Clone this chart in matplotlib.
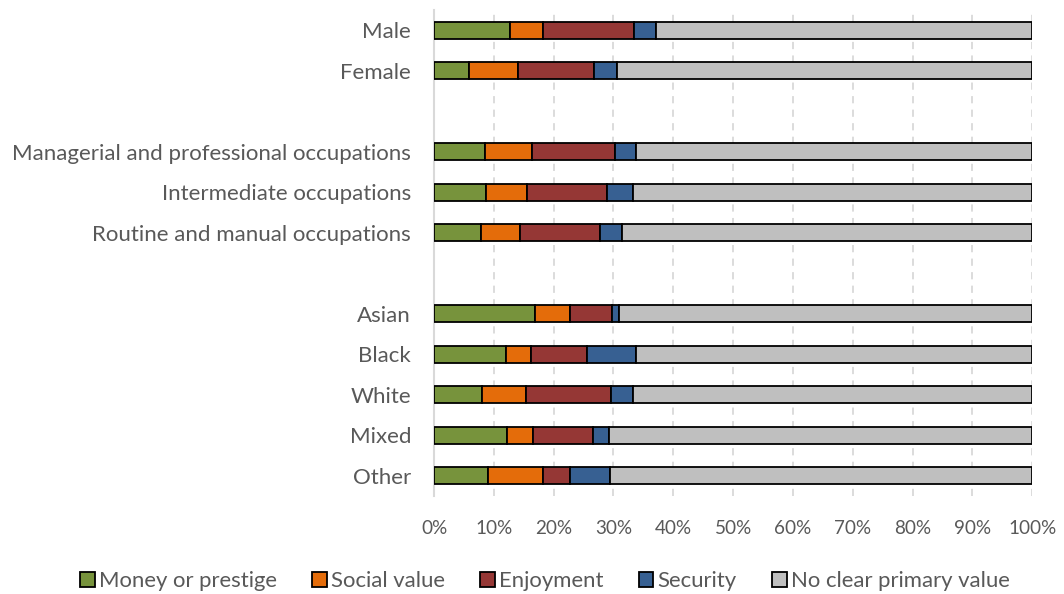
import matplotlib
matplotlib.use("Agg")
import matplotlib.pyplot as plt
from matplotlib.patches import Patch

plt.rcParams['font.family'] = ['Lato', 'DejaVu Sans']

categories = [
    "Male", "Female", "",
    "Managerial and professional occupations", "Intermediate occupations",
    "Routine and manual occupations", "",
    "Asian", "Black", "White", "Mixed", "Other",
]
series_names = ["Money or prestige", "Social value", "Enjoyment", "Security",
                "No clear primary value"]
money = [12.7, 5.8, 0, 8.5, 8.7, 7.9, 0, 16.8, 12.1, 8.1, 12.2, 9.1]
social = [5.6, 8.3, 0, 7.8, 6.8, 6.5, 0, 5.9, 4.1, 7.3, 4.4, 9.1]
enjoyment = [15.2, 12.6, 0, 14.0, 13.4, 13.4, 0, 7.0, 9.4, 14.2, 10.0, 4.5]
security = [3.6, 3.9, 0, 3.5, 4.4, 3.6, 0, 1.2, 8.1, 3.7, 2.7, 6.7]
no_clear = [62.9, 69.4, 0, 66.2, 66.7, 68.6, 0, 69.1, 66.3, 66.7, 70.7, 70.6]
colors = ["#77933C", "#E46C0A", "#953735", "#376092", "#BFBFBF"]
xticks = [0, 10, 20, 30, 40, 50, 60, 70, 80, 90, 100]
xtick_labels = [f"{t}%" for t in xticks]

text_color = "#595959"

fig = plt.figure(figsize=(10.64, 5.94), dpi=100)
ax = fig.add_axes([434 / 1064, 1 - 496 / 594, (1032.3 - 434) / 1064, (496 - 10) / 594])

ypos = list(range(len(categories)))
left = [0.0] * len(categories)
for name, vals, col in zip(series_names, [money, social, enjoyment, security, no_clear], colors):
    idx = [i for i, c in enumerate(categories) if c]
    ax.barh([ypos[i] for i in idx], [vals[i] for i in idx], left=[left[i] for i in idx],
            height=0.42, color=col, edgecolor="black", linewidth=1.3, zorder=3, label=name)
    left = [l + v for l, v in zip(left, vals)]

ax.set_xlim(0, 100)
ax.set_ylim(len(categories) - 0.5, -0.5)
ax.set_yticks(ypos)
ax.set_yticklabels(categories)
ax.set_xticks(xticks)
ax.set_xticklabels(xtick_labels)
ax.tick_params(axis="y", length=0, pad=16.5, labelsize=16.0, labelcolor=text_color)
ax.tick_params(axis="x", length=0, pad=17, labelsize=13.6, labelcolor=text_color)

for s in ["top", "right", "bottom"]:
    ax.spines[s].set_visible(False)
ax.spines["left"].set_color("#D9D9D9")
ax.spines["left"].set_linewidth(1.5)
ax.spines["left"].set_zorder(1)

for t in xticks[1:]:
    ax.axvline(t, color="#D9D9D9", linewidth=1.3, linestyle=(0, (4, 3.5)), zorder=0)

handles = [Patch(facecolor=c, edgecolor="black", linewidth=1.3) for c in colors]
fig.legend(handles, series_names, loc="center", bbox_to_anchor=(545 / 1064, 1 - 581 / 594),
           ncol=5, frameon=False, fontsize=15.9, handlelength=0.65, handleheight=0.65,
           handletextpad=0.2, columnspacing=1.6, labelcolor=text_color)

fig.savefig("out.png", dpi=100)
